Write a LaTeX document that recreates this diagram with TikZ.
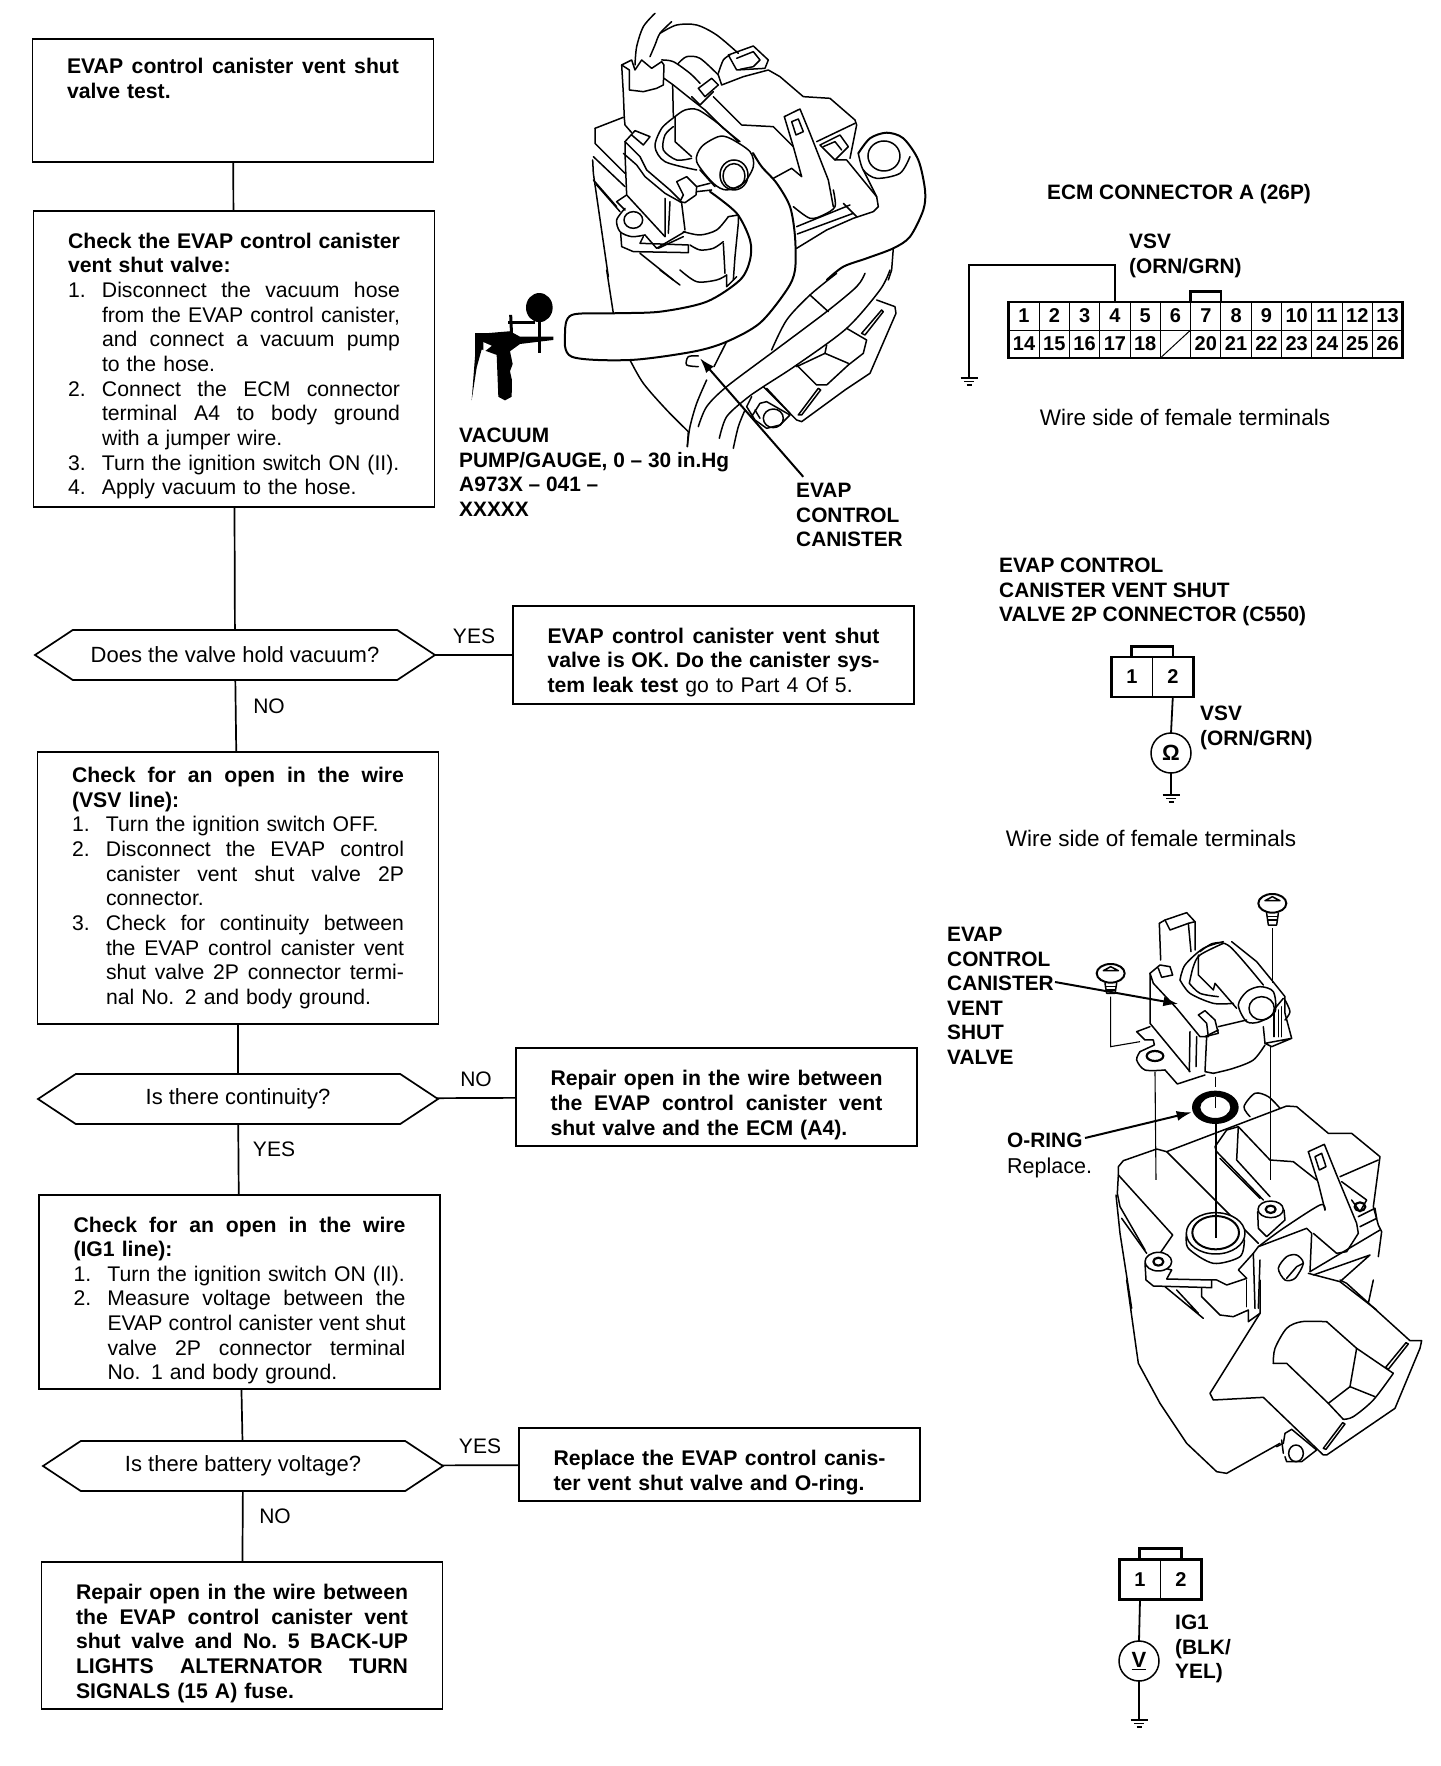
\documentclass[tikz,border=0pt]{standalone}
\usepackage{fontspec}
\setmainfont{Liberation Sans}
\usetikzlibrary{arrows.meta,positioning,shapes.symbols}
\newcommand{\fullln}[1]{\hbox to 332pt{\frenchspacing\spaceskip=.278em plus 1fil minus .08em\relax #1}}
\newcommand{\shortln}[1]{\hbox to 332pt{#1\hfil}}
\newcommand{\numln}[2]{\hbox to 332pt{\hbox to 34pt{#1\hfil}\hbox to 298pt{\frenchspacing\spaceskip=.278em plus 1fil minus .08em\relax #2}}}
\newcommand{\numshort}[2]{\hbox to 332pt{\hbox to 34pt{#1\hfil}#2\hfil}}
\begin{document}
\begin{tikzpicture}[
  x=1pt,y=-1pt,
  flowbox/.style={draw,line width=1.7pt,outer sep=0pt,inner xsep=34.5pt,inner ysep=0pt,text width=332pt,minimum width=401pt,font=\fontsize{21.2}{24.66}\selectfont},
  decision/.style={draw,line width=1.7pt,outer sep=0pt,signal,signal to=west and east,signal pointer angle=67,inner sep=0pt,minimum width=400pt,minimum height=50pt,font=\fontsize{22}{24.66}\selectfont},
  answer/.style={font=\fontsize{21}{24.66}\selectfont,inner sep=0pt},
  lbl/.style={font=\bfseries\fontsize{20.85}{24.5}\selectfont,align=left,anchor=north west,inner sep=0pt},
  plainlbl/.style={font=\fontsize{22.5}{24.5}\selectfont,inner sep=0pt},
  cell/.style={draw,line width=1pt,outer sep=0pt,inner sep=0pt,minimum width=30.3pt,minimum height=28pt,font=\bfseries\fontsize{20}{22}\selectfont},
  termcell/.style={cell,minimum width=40.8pt,minimum height=40pt},
  meter/.style={draw,circle,line width=1.5pt,inner sep=0pt,outer sep=0pt,minimum size=40pt,font=\bfseries\fontsize{22}{24}\selectfont},
  line/.style={draw,line width=1.7pt},
  heavy/.style={draw,line width=2.8pt},
  wire/.style={draw,line width=1.8pt},
  callout/.style={draw,line width=2pt,-{Latex[length=15pt,width=10pt]}},
  ink/.style={draw,line width=1.5pt,line join=round,line cap=round},
  guide/.style={draw,line width=1.1pt},
  gnd/.pic={
    \draw[line width=1.5pt] (-8.5,0) -- (8.5,0);
    \draw[line width=1.5pt] (-5,3.5) -- (5,3.5);
    \draw[line width=1.5pt] (-2.5,7) -- (2.5,7);
  }
]
  \useasboundingbox (0,0) rectangle (1440,1766);

  \node[flowbox,minimum height=123pt] (vsttest) at (233,100.5) {
    \fullln{\bfseries EVAP control canister vent shut}
    \shortln{\bfseries valve test.}
    \vskip 20pt\hbox{}};
  \node[flowbox,minimum height=296pt] (valvecheck) [below=49pt of vsttest,xshift=1pt] {
    \vskip 4.5pt
    \fullln{\bfseries Check the EVAP control canister}
    \shortln{\bfseries vent shut valve:}
    \numln{1.}{Disconnect the vacuum hose}
    \numln{}{from the EVAP control canister,}
    \numln{}{and connect a vacuum pump}
    \numshort{}{to the hose.}
    \numln{2.}{Connect the ECM connector}
    \numln{}{terminal A4 to body ground}
    \numshort{}{with a jumper wire.}
    \numshort{3.}{Turn the ignition switch ON (II).}
    \numshort{4.}{Apply vacuum to the hose.}};
  \node[decision] (holdvac) [below=123pt of valvecheck,xshift=1pt] {Does the valve hold vacuum?};
  \node[flowbox,minimum height=272pt] (vsvcheck) [below=72pt of holdvac,xshift=3pt] {
    \fullln{\bfseries Check for an open in the wire}
    \shortln{\bfseries (VSV line):}
    \numshort{1.}{Turn the ignition switch OFF.}
    \numln{2.}{Disconnect the EVAP control}
    \numln{}{canister vent shut valve 2P}
    \numshort{}{connector.}
    \numln{3.}{Check for continuity between}
    \numln{}{the EVAP control canister vent}
    \numln{}{shut valve 2P connector termi-}
    \numshort{}{nal No. 2 and body ground.}};
  \node[decision] (contin) [below=50pt of vsvcheck] {Is there continuity?};
  \node[flowbox,minimum height=194pt] (igcheck) [below=71pt of contin,xshift=1.5pt] {
    \vskip 7.7pt
    \fullln{\bfseries Check for an open in the wire}
    \shortln{\bfseries (IG1 line):}
    \numshort{1.}{Turn the ignition switch ON (II).}
    \numln{2.}{Measure voltage between the}
    \numln{}{EVAP control canister vent shut}
    \numln{}{valve 2P connector terminal}
    \numshort{}{No. 1 and body ground.}};
  \node[decision] (battvolt) [below=52pt of igcheck,xshift=3.5pt] {Is there battery voltage?};
  \node[flowbox,minimum height=147pt] (repairfuse) [below=71pt of battvolt,xshift=-1pt] {
    \vskip 6.6pt
    \fullln{\bfseries Repair open in the wire between}
    \fullln{\bfseries the EVAP control canister vent}
    \fullln{\bfseries shut valve and No. 5 BACK-UP}
    \fullln{\bfseries LIGHTS ALTERNATOR TURN}
    \shortln{\bfseries SIGNALS (15 A) fuse.}};

  \node[flowbox,minimum height=98pt] (valveok) [right=78pt of holdvac] {
    \vskip 5.6pt
    \fullln{\bfseries EVAP control canister vent shut}
    \fullln{\bfseries valve is OK. Do the canister sys-}
    \shortln{\bfseries tem leak test {\mdseries go to Part 4 Of 5.}}};
  \node[flowbox,minimum height=98pt] (repairwire) [right=78pt of contin,yshift=2pt] {
    \vskip 6.6pt
    \fullln{\bfseries Repair open in the wire between}
    \fullln{\bfseries the EVAP control canister vent}
    \shortln{\bfseries shut valve and the ECM (A4).}};
  \node[flowbox,minimum height=73pt] (replacevalve) [right=76pt of battvolt,yshift=1.5pt] {
    \vskip 6.7pt
    \fullln{\bfseries Replace the EVAP control canis-}
    \shortln{\bfseries ter vent shut valve and O-ring.}};

  \path[line] (vsttest) -- (valvecheck);
  \path[line] (valvecheck) -- (holdvac);
  \path[line] (holdvac) -- (vsvcheck);
  \path[line] (vsvcheck) -- (contin);
  \path[line] (contin) -- (igcheck);
  \path[line] (igcheck) -- (battvolt);
  \path[line] (battvolt) -- (repairfuse);
  \path[line] (holdvac) -- (valveok);
  \path[line] (contin) -- (repairwire);
  \path[line] (battvolt) -- (replacevalve);

  \node[answer] (yesa) at (474,636) {YES};
  \node[answer] (noa) at (269,706) {NO};
  \node[answer] (nob) at (476,1079) {NO};
  \node[answer] (yesb) at (274,1149) {YES};
  \node[answer] (yesc) at (480,1446) {YES};
  \node[answer] (noc) at (275,1516) {NO};

  \draw[ink,line width=2pt] plot[smooth] coordinates {(710,191.7) (736.7,213.3) (750,240) (750,260) (740,280) (706.7,301.7) (660,311.7) (613,313.3) (571.7,315) (565,333.3) (571.7,356.7) (630,360) (693,351.7) (726.7,341.7) (760,323) (786.7,290) (795,270) (795,236.7) (790,206.7) (776.7,183.3) (761.7,166.7) (753,153)};
  \draw[ink,line width=2pt] plot[smooth] coordinates {(858.3,153.3) (870,138.3) (886.7,132.7) (903.3,138.3) (918.3,160) (925,190) (923.3,210) (910,236.7) (893.3,248.3) (866.7,258.3) (843.3,266.7) (826.7,280)};

  \begin{scope}[shift={(590,10)},x=0.3333pt,y=-0.3333pt]
    \draw[ink] plot[smooth] coordinates {(195,10) (160,50) (140,110) (135,165)};
    \draw[ink] plot[smooth] coordinates {(245,35) (210,70) (195,105) (180,140)};
    \draw[ink] plot[smooth] coordinates {(210,70) (260,45) (320,45) (380,75) (445,130)};
    \draw[ink] (95,165) -- (125,150) -- (135,180) -- (155,150) -- (185,175) -- (215,155) -- (222,165) -- (220,225) -- (200,235) -- (160,245) -- (118,240) -- (118,180) -- (95,165);
    \draw[ink] (95,165) -- (100,250) -- (103,325) -- (105,345) -- (125,368);
    \draw[ink] plot[smooth] coordinates {(215,150) (250,155) (300,190) (330,220)};
    \draw[ink] (222,205) -- (250,225) -- (300,265) -- (345,300) -- (400,355) -- (450,395);
    \draw[ink] (248,225) -- (250,320);
    \draw[ink] plot[smooth] coordinates {(265,160) (290,140) (330,145) (385,195)};
    \draw[ink] (415,135) -- (490,108) -- (535,150) -- (525,175) -- (440,180) -- cycle;
    \draw[ink] (440,145) -- (490,125) -- (510,150) -- (490,170) -- (450,178);
    \draw[ink] plot[smooth] coordinates {(385,190) (400,150) (420,135)};
    \draw[ink] (385,195) -- (395,225) -- (460,200) -- (535,180) -- (570,200) -- (640,260) -- (720,265) -- (795,330) -- (800,345) -- (780,445);
    \draw[ink] (325,235) -- (365,205) -- (385,225) -- (345,260) -- cycle;
    \draw[ink] (305,260) -- (330,285) -- (370,245);
    \draw[ink] (15,355) -- (100,322);
    \draw[ink] (15,355) -- (15,400) -- (105,490);
    \draw[ink] (10,440) -- (105,530);
    \draw[ink] (8,450) -- (10,490) -- (55,800);
    \draw[ink] (10,510) -- (80,590) (20,525) -- (90,605);
    \draw[ink] (105,395) -- (135,362) -- (180,380) -- (160,405) -- (125,375);
    \draw[ink] (105,395) -- (105,430) -- (110,555) -- (225,680);
    \draw[ink] (105,395) -- (150,440) -- (170,480) -- (240,540) -- (270,570);
    \draw[ink] (100,430) -- (140,465) -- (165,500) -- (225,550) -- (275,578);
    \draw[ink] (225,565) -- (225,680) (240,575) -- (235,670) (275,580) -- (285,660);
    \draw[ink] (260,515) -- (290,500) -- (320,530) -- (318,555) -- (285,578) -- (270,575) -- (280,555) -- cycle;
    \draw[ink] (320,530) -- (360,520) (320,545) -- (365,540);
    \draw[ink] (110,555) -- (80,575) -- (105,600);
    \draw[ink] plot[smooth] coordinates {(105,595) (80,630) (90,665) (125,680) (165,675)};
    \draw[ink] (165,675) -- (200,715) -- (285,665);
    \draw[ink] (92,670) -- (95,710) -- (130,725) -- (295,728) -- (295,705) -- (150,700) -- (160,680);
    \draw[ink] (205,715) -- (280,680);
    \draw[ink] (130,630) ellipse [x radius=28,y radius=25];
    \draw[ink] plot[smooth] coordinates {(255,320) (215,355) (195,410) (225,455) (320,480)};
    \draw[ink] plot[smooth] coordinates {(250,350) (225,375) (220,420) (260,450) (305,445)};
    \draw[ink] (255,320) -- (255,395) -- (305,440);
    \draw[ink] plot[smooth] coordinates {(255,320) (285,300) (325,300) (390,345) (445,395)};
    \draw[ink,fill=white] plot[smooth cycle] coordinates {(320,455) (335,410) (385,380) (420,385) (480,425) (490,470) (460,520) (410,540) (370,520)};
    \draw[ink] (330,480) -- (375,530);
    \draw[ink] (432,495) ellipse [x radius=42,y radius=45];
    \draw[ink] (432,498) ellipse [x radius=33,y radius=37];
    \draw[ink] (370,260) -- (455,345) -- (550,350) -- (610,410);
    \draw[ink] (583,320) -- (630,297) -- (660,370) -- (715,510) -- (730,590);
    \draw[ink] (583,320) -- (610,410) -- (635,500) -- (605,475) -- (550,505);
    \draw[ink] (605,335) -- (625,327) -- (640,365) -- (618,375) -- cycle;
    \draw[ink] (690,405) -- (750,375) -- (775,410) -- (735,450) -- cycle;
    \draw[ink] (700,410) -- (735,395) -- (755,420);
    \draw[ink] (680,395) -- (795,340);
    \draw[ink] (735,450) -- (770,450) -- (860,560) -- (865,590) -- (850,605) -- (790,625) -- (710,660) -- (620,715);
    \draw[ink] plot[smooth] coordinates {(610,590) (660,625) (700,615) (735,590) (730,540)};
    \draw[ink] (620,650) -- (780,585) (622,672) -- (790,610);
    \draw[ink] (760,580) -- (800,620);
    \draw[ink] plot[smooth] coordinates {(805,430) (820,480) (860,505) (930,490) (960,440)};
    \draw[ink] (882,438) ellipse [x radius=48,y radius=45];
    \draw[ink] (820,480) -- (860,560);
    \draw[ink] plot[smooth] coordinates {(280,665) (330,675) (380,660) (415,620)};
    \draw[ink] (415,620) -- (445,615) -- (445,640) -- (435,740) -- (430,810);
    \draw[ink] (400,700) -- (405,790);
    \draw[ink] plot[smooth] coordinates {(300,705) (330,720) (370,715) (400,695)};
    \draw[ink] (150,730) -- (250,810);
    \draw[ink] (910,715) -- (905,780) -- (895,810);
  \end{scope}

  \begin{scope}[shift={(560,270)},x=0.3333pt,y=-0.3333pt]
    \draw[ink] (140,0) -- (160,130);
    \draw[ink] plot[smooth] coordinates {(210,270) (250,340) (320,420) (385,485)};
    \draw[ink] (385,485) -- (382,530);
    \draw[ink] plot[smooth] coordinates {(440,330) (410,400) (390,470) (382,530)};
    \draw[ink] plot[smooth] coordinates {(555,420) (535,470) (520,535)};
    \draw[ink] plot[smooth] coordinates {(415,258) (385,260) (380,285) (415,290)};
    \draw[ink] (500,215) -- (462,290);
    \draw[ink] (300,0) -- (360,45);
    \draw[ink] plot[smooth] coordinates {(360,0) (410,35) (470,30) (500,15)};
    \draw[ink] (500,15) -- (500,50) -- (530,20);
    \draw[ink] plot[smooth] coordinates {(830,10) (750,75) (680,150) (635,240)};
    \draw[ink] plot[smooth] coordinates {(915,10) (890,50) (800,125) (640,245) (500,350) (440,410) (415,470)};
    \draw[ink] plot[smooth] coordinates {(990,0) (960,60) (860,175) (710,285) (610,350) (560,385) (500,440) (478,505)};
    \draw[ink] (950,90) -- (1005,110) -- (1008,130) -- (930,310) -- (855,360) -- (725,455) -- (710,450) -- (610,350);
    \draw[ink] (860,175) -- (920,210) -- (910,250) -- (865,285) -- (800,345) -- (770,345) -- (710,285);
    \draw[ink] (800,225) -- (795,250) -- (710,290);
    \draw[ink] (795,250) -- (865,280);
    \draw[ink] (750,75) -- (805,125);
    \draw[ink] (905,190) -- (965,120) -- (970,125) -- (915,195) -- cycle;
    \draw[ink] (715,435) -- (775,355) -- (782,360) -- (725,435) -- cycle;
    \draw[ink] (575,380) -- (560,410) -- (585,450) -- (620,475) -- (660,465) -- (690,435) -- (620,395) -- (600,400) -- (575,440);
    \draw[ink] (640,445) ellipse [x radius=30,y radius=28];
    \draw[ink] (620,355) -- (690,430);
    \draw[ink] (585,420) -- (600,445);
    \coordinate (canistertip) at (420,265);
  \end{scope}

  \begin{scope}[shift={(440,0)},x=0.3333pt,y=-0.364pt]
    \fill (298,845) circle [radius=40];
    \fill (145,915) -- (210,910) -- (240,925) -- (340,925) -- (340,934) -- (240,945) -- (210,965) -- (218,1000) -- (210,1020) -- (216,1045) -- (215,1090) -- (195,1100) -- (175,1090) -- (170,975) -- (125,960) -- (110,1010) -- (95,1100) -- (105,980) -- (105,915) -- cycle;
    \fill[white] (130,940) -- (155,950) -- (130,968) -- cycle;
    \draw[line width=3pt] (298,880) -- (298,970);
    \draw[line width=3pt] (205,885) -- (285,885);
    \draw[line width=3pt] (212,865) -- (215,925);
    \coordinate (canistertail) at (1090,1310);
  \end{scope}

  \node[lbl] (pumplabel) at (459,428) {VACUUM\\PUMP/GAUGE, 0 -- 30 in.Hg\\A973X -- 041 --\\XXXXX};
  \node[lbl] (canisterlabel) at (796,483) {EVAP\\CONTROL\\CANISTER};
  \path[callout] (canistertail) -- (canistertip);

  \node[lbl,anchor=center] (ecmtitle) at (1179,194) {ECM CONNECTOR A (26P)};
  \node[lbl] (ecmvsv) at (1129,234) {VSV\\(ORN/GRN)};
  \foreach \n [count=\c] in {1,...,13}
    \node[cell] (ecm\n) at ({1024+(\c-1)*30.3},316) {\n};
  \foreach \n [count=\c] in {14,...,26}
    \node[cell] (ecm\n) at ({1024+(\c-1)*30.3},344) {\ifnum\n=19 \else\n\fi};
  \draw[line width=1pt] (ecm19.south west) -- (ecm19.north east);
  \draw[heavy] (ecm1.north west) rectangle (ecm26.south east);
  \draw[heavy] (ecm7.north west) -- ++(0,-10.5) -- ++(30.3,0) -- ++(0,10.5);
  \coordinate (ecmgnd) at (969,378);
  \draw[wire] (ecm4.north) -- ++(0,-37) -| (ecmgnd);
  \pic at (ecmgnd) {gnd};
  \node[plainlbl] (ecmside) at (1185,417) {Wire side of female terminals};

  \node[lbl] (vsvtitle) at (999,558) {EVAP CONTROL\\CANISTER VENT SHUT\\VALVE 2P CONNECTOR (C550)};
  \node[termcell] (vsvone) at (1132,677) {1};
  \node[termcell] (vsvtwo) at (1172.8,677) {2};
  \draw[heavy] (vsvone.north west) rectangle (vsvtwo.south east);
  \draw[heavy] (1131.5,657) -- (1131.5,646.5) -- (1173,646.5) -- (1173,657);
  \node[meter] (ohmmeter) at (1171,753) {Ω};
  \coordinate (vsvgnd) at (1171,795);
  \draw[wire] (vsvtwo.south) -- (ohmmeter.north);
  \draw[wire] (ohmmeter.south) -- (vsvgnd);
  \pic at (vsvgnd) {gnd};
  \node[lbl] (vsvwire) at (1200,706) {VSV\\(ORN/GRN)};
  \node[plainlbl] (vsvside) at (1151,838) {Wire side of female terminals};

  \begin{scope}[shift={(1090,880)},x=0.3333pt,y=-0.3333pt]
    \draw[ink,line width=2pt] (547,70) ellipse [x radius=42,y radius=28];
    \draw[ink] (525,62) -- (547,50) -- (570,62) -- (525,62);
    \draw[ink] (530,100) -- (535,135) -- (560,135) -- (565,100);
    \draw[ink] (532,110) -- (563,110) (533,120) -- (562,120);
    \draw[guide] (547,145) -- (547,310);
    \draw[ink,line width=2pt] (62,280) ellipse [x radius=42,y radius=28];
    \draw[ink] (40,272) -- (62,260) -- (85,272) -- (40,272);
    \draw[ink] (45,310) -- (50,340) -- (75,340) -- (80,310);
    \draw[ink] (47,320) -- (78,320) (48,330) -- (77,330);
    \draw[guide] (62,350) -- (62,500) -- (150,485);
    \draw[ink] (208,130) -- (225,120) -- (290,98) -- (315,125) -- (315,210);
    \draw[ink] (208,130) -- (212,240);
    \draw[ink] (225,120) -- (240,150) -- (295,130) -- (315,125);
    \draw[ink] (295,130) -- (303,215);
    \draw[ink] (180,280) -- (210,255) -- (240,260) -- (248,285) -- (215,292) -- (205,265);
    \draw[ink] (180,280) -- (180,430) -- (300,575);
    \draw[ink] (180,280) -- (190,310) -- (260,385) -- (330,470) -- (355,470) -- (350,430) -- (325,405) -- (345,392) -- (375,420) -- (385,460) -- (345,470);
    \draw[ink] plot[smooth] coordinates {(270,300) (285,255) (340,205) (400,185)};
    \draw[ink] plot[smooth] coordinates {(298,310) (310,260) (330,225) (400,190)};
    \draw[ink] plot[smooth] coordinates {(270,300) (300,340) (370,370) (430,370)};
    \draw[ink] plot[smooth] coordinates {(298,310) (330,340) (385,350)};
    \draw[ink] (325,225) -- (325,285) -- (370,330) -- (375,310) -- (440,385);
    \draw[ink] plot[smooth] coordinates {(330,215) (370,190) (420,200) (520,315)};
    \draw[ink] (425,185) -- (500,245) -- (545,300) -- (585,350) -- (585,400) -- (605,475) -- (525,490) -- (545,500) -- (605,475);
    \draw[ink] (520,440) -- (525,490);
    \draw[ink] (580,355) -- (555,385);
    \draw[ink,fill=white] plot[smooth cycle] coordinates {(445,375) (470,335) (510,320) (550,335) (555,395) (510,425) (470,425)};
    \draw[ink] (515,385) ellipse [x radius=38,y radius=35];
    \draw[ink] plot[smooth] coordinates {(585,360) (600,395) (585,420)};
    \draw[ink] (552,390) -- (552,470) (565,390) -- (565,470) (575,380) -- (575,470);
    \draw[ink] (385,440) -- (470,420) (385,450) -- (345,470);
    \draw[ink] (350,470) -- (345,575) -- (370,580);
    \draw[ink] plot[smooth] coordinates {(370,580) (430,565) (490,540) (525,495)};
    \draw[ink] (300,455) -- (298,575) (320,470) -- (318,560);
    \draw[ink] (180,440) -- (140,455) -- (165,480) -- (190,480) -- (193,495) -- (150,515);
    \draw[ink] plot[smooth] coordinates {(150,515) (140,540) (165,570) (225,570)};
    \draw[ink] (225,570) -- (262,612) -- (345,585);
    \draw[ink,line width=2.2pt] (195,528) ellipse [x radius=25,y radius=15];
    \draw[guide] (195,575) -- (198,900);
    \draw[guide] (377,590) -- (377,620) (377,650) -- (377,685) (377,730) -- (377,900);
    \draw[guide] (541,500) -- (541,900);
    \fill[even odd rule] (376,682) ellipse [x radius=70,y radius=50] (376,682) ellipse [x radius=45,y radius=32];
    \draw[ink] plot[smooth] coordinates {(480,710) (462,680) (495,640) (535,650) (570,685)};
    \coordinate (valvetip) at (265,372);
    \coordinate (ringtip) at (305,697);
  \end{scope}

  \begin{scope}[shift={(1110,1100)},x=0.3333pt,y=-0.3333pt]
    \draw[ink] (25,200) -- (40,182) -- (140,147) -- (170,155) -- (530,18) -- (560,20) -- (655,100) -- (725,100) -- (810,170) -- (790,320) -- (805,375) -- (815,395) -- (805,470);
    \draw[ink] (170,155) -- (445,430);
    \draw[ink] (25,200) -- (25,225) -- (188,405) -- (150,460);
    \draw[ink] (25,225) -- (22,280) -- (30,320) -- (105,450);
    \draw[ink] (35,355) -- (110,460);
    \draw[ink] (18,285) -- (30,400) -- (65,625);
    \draw[ink] (385,80) -- (480,180) -- (550,185) -- (620,240);
    \draw[ink] (385,80) -- (380,180) -- (480,290);
    \draw[ink] (385,80) -- (350,90) -- (315,140) -- (320,155) -- (460,300);
    \draw[ink] (330,175) -- (450,295);
    \draw[ink,fill=white] (443,335) -- (445,385) -- (470,410) -- (525,360) -- (522,330) -- cycle;
    \draw[ink,fill=white] (482,328) ellipse [x radius=38,y radius=25];
    \draw[ink,line width=2.2pt] (482,328) ellipse [x radius=15,y radius=11];
    \draw[ink,fill=white] plot[smooth] coordinates {(230,400) (235,445) (310,490) (390,470) (403,420)} -- cycle;
    \draw[ink,fill=white] (317,400) ellipse [x radius=88,y radius=62];
    \draw[ink,line width=2pt] (317,398) ellipse [x radius=70,y radius=50];
    \draw[guide] (318,60) -- (318,415);
    \draw[ink,fill=white] (105,490) -- (108,540) -- (130,558) -- (305,563) -- (305,540) -- (170,537) -- (185,510) -- cycle;
    \draw[ink,fill=white] (145,485) ellipse [x radius=40,y radius=28];
    \draw[ink,line width=2.2pt] (145,485) ellipse [x radius=15,y radius=12];
    \draw[ink] (305,540) -- (320,540) -- (350,555) -- (410,535) -- (385,510) -- (430,460) -- (445,440) -- (590,385) -- (605,400) -- (600,515);
    \draw[ink] plot[smooth] coordinates {(445,440) (520,385) (630,315) (645,330)};
    \draw[ink] (430,460) -- (435,625) (450,480) -- (445,625);
    \draw[ink] (595,155) -- (643,133) -- (680,225) -- (740,370) -- (745,400) -- (710,455) -- (680,460) -- (610,400);
    \draw[ink] (595,155) -- (625,250) -- (645,330);
    \draw[ink] (615,170) -- (635,160) -- (648,200) -- (628,210) -- cycle;
    \draw[ink] (690,230) -- (805,180);
    \draw[ink] (695,245) -- (770,300) -- (750,335) -- (725,300);
    \draw[ink,line width=2.2pt] (750,320) ellipse [x radius=16,y radius=13];
    \draw[ink] (745,350) -- (795,325) -- (800,355) -- (750,380);
    \draw[ink] (810,390) -- (600,515);
    \draw[ink] (610,525) -- (780,465) -- (690,545);
    \draw[ink] (595,520) -- (690,545) -- (800,630);
    \draw[ink] plot[smooth cycle] coordinates {(505,505) (530,470) (560,465) (580,490) (555,535) (525,540)};
    \draw[ink] (530,535) -- (560,500) -- (580,490);
  \end{scope}

  \begin{scope}[shift={(1110,1280)},x=0.3333pt,y=-0.3333pt]
    \draw[ink] (50,0) -- (80,215) -- (85,250) -- (150,370) -- (230,490) -- (320,575) -- (350,580) -- (510,490);
    \draw[ink] (165,20) -- (280,115) (200,30) -- (265,100);
    \draw[ink] (275,25) -- (275,50) -- (330,105) -- (370,110) -- (415,90) -- (415,125) -- (450,100) -- (450,0);
    \draw[ink] (410,0) -- (410,80);
    \draw[ink] (450,100) -- (300,340) -- (310,360) -- (460,352) -- (640,525) -- (650,525) -- (855,385) -- (930,205) -- (935,182) -- (900,182) -- (710,10) -- (690,0);
    \draw[ink] (790,0) -- (775,70);
    \draw[ink] plot[smooth] coordinates {(490,250) (495,205) (530,145) (575,125) (650,125)};
    \draw[ink] (650,125) -- (740,205) -- (850,280);
    \draw[ink] plot[smooth] coordinates {(850,280) (790,360) (730,410) (700,418)};
    \draw[ink] (700,418) -- (655,370) -- (530,250) -- (490,250);
    \draw[ink] (740,205) -- (720,320) -- (655,370);
    \draw[ink] (720,320) -- (795,350);
    \draw[ink] (827,262) -- (888,188) -- (895,192) -- (835,268) -- cycle;
    \draw[ink] (640,505) -- (698,428) -- (705,432) -- (648,508) -- cycle;
    \draw[ink] (500,500) -- (520,490) -- (525,460) -- (545,448) -- (620,510);
    \draw[ink] (525,530) -- (530,545) -- (575,545) -- (620,510);
    \draw[ink] (558,520) ellipse [x radius=22,y radius=25];
    \draw[ink] (515,480) -- (520,520);
  \end{scope}

  \coordinate (valvetail) at (1055,982);
  \coordinate (ringtail) at (1085,1138);
  \node[lbl] (valvelabel) at (947,927) {EVAP\\CONTROL\\CANISTER\\VENT\\SHUT\\VALVE};
  \node[lbl] (ringlabel) at (1007,1133) {O-RING};
  \node[plainlbl,anchor=north west,font=\fontsize{21.5}{24.5}\selectfont] (replacelabel) at (1007,1158) {Replace.};
  \path[callout] (valvetail) -- (valvetip);
  \path[callout] (ringtail) -- (ringtip);

  \node[termcell] (igone) at (1140,1579.5) {1};
  \node[termcell] (igtwo) at (1180.8,1579.5) {2};
  \draw[heavy] (igone.north west) rectangle (igtwo.south east);
  \draw[heavy] (1139.5,1559.5) -- (1139.5,1548.5) -- (1181.5,1548.5) -- (1181.5,1559.5);
  \node[meter] (voltmeter) at (1139,1661) {\underline{V}};
  \coordinate (iggnd) at (1139,1720);
  \draw[wire] (igone.south) -- (voltmeter.north);
  \draw[wire] (voltmeter.south) -- (iggnd);
  \pic at (iggnd) {gnd};
  \node[lbl] (igwire) at (1175,1615) {IG1\\(BLK/\\YEL)};
\end{tikzpicture}
\end{document}
